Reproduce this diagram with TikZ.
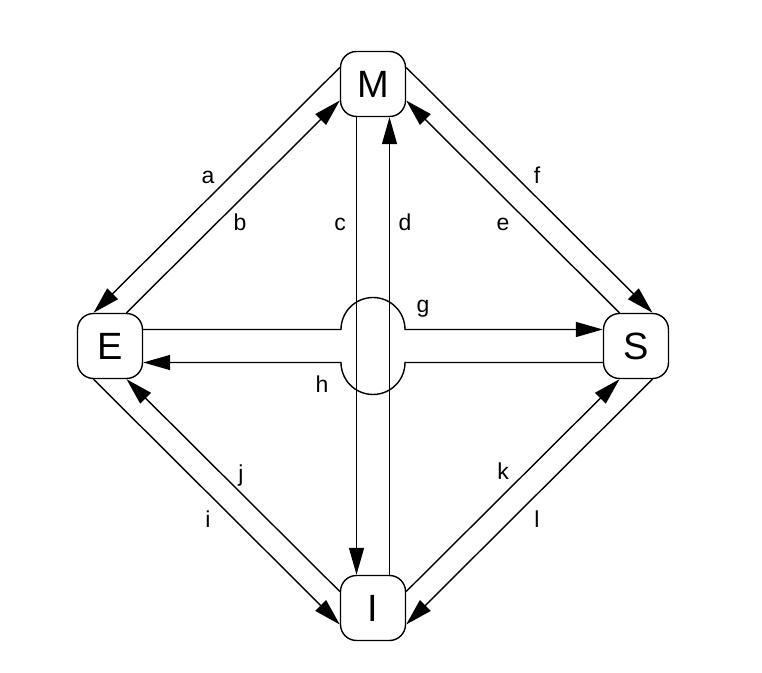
\documentclass[tikz,border=0pt]{standalone}
\usepackage{fontspec}
\setmainfont{Liberation Sans}
\usetikzlibrary{arrows.meta,calc}
\begin{document}
\begin{tikzpicture}[x=1pt,y=1pt,
  statebox/.style={draw,line width=1.4pt,rounded corners=16pt,minimum width=65pt,minimum height=65pt,inner sep=0pt,font=\fontsize{38}{40}\selectfont},
  arr/.style={line width=1.4pt,-{Triangle[length=27pt,width=15pt]}},
  lbl/.style={anchor=base,inner sep=0pt,font=\fontsize{23}{25}\selectfont}]
\useasboundingbox (0,0) rectangle (762,672);
\node[statebox] (M) at (373,588) {M};
\node[statebox] (E) at (110,326) {E};
\node[statebox] (S) at (636,326) {S};
\node[statebox] (I) at (373,64) {I};
% upper left
\draw[arr] ($(M.west)+(0,16.5)$) -- ($(E.north)+(-16.5,0)$);
\draw[arr] ($(E.north)+(16.5,0)$) -- ($(M.west)+(0,-16.5)$);
% upper right
\draw[arr] ($(S.north)+(-16.5,0)$) -- ($(M.east)+(0,-16.5)$);
\draw[arr] ($(M.east)+(0,16.5)$) -- ($(S.north)+(16.5,0)$);
% vertical
\draw[arr] ($(M.south)+(-16.5,0)$) -- ($(I.north)+(-16.5,0)$);
\draw[arr] ($(I.north)+(16.5,0)$) -- ($(M.south)+(16.5,0)$);
% horizontal
\draw[arr] ($(E.east)+(0,16.5)$) -- (341,342.5) arc[start angle=180,end angle=0,radius=32] -- ($(S.west)+(0,16.5)$);
\draw[arr] ($(S.west)+(0,-16.5)$) -- (405,309.5) arc[start angle=0,end angle=-180,radius=32] -- ($(E.east)+(0,-16.5)$);
% lower left
\draw[arr] ($(E.south)+(-16.5,0)$) -- ($(I.west)+(0,-16.5)$);
\draw[arr] ($(I.west)+(0,16.5)$) -- ($(E.south)+(16.5,0)$);
% lower right
\draw[arr] ($(I.east)+(0,16.5)$) -- ($(S.south)+(-16.5,0)$);
\draw[arr] ($(S.south)+(16.5,0)$) -- ($(I.east)+(0,-16.5)$);
% labels
\node[lbl] (la) at (208,488) {a};
\node[lbl] (lb) at (240,441) {b};
\node[lbl] (lc) at (340,441) {c};
\node[lbl] (ld) at (405,441) {d};
\node[lbl] (le) at (503,441) {e};
\node[lbl] (lf) at (537,488) {f};
\node[lbl] (lg) at (423,359) {g};
\node[lbl] (lh) at (322,279) {h};
\node[lbl] (li) at (208,145) {i};
\node[lbl] (lj) at (241,191) {j};
\node[lbl] (lk) at (503,193) {k};
\node[lbl] (ll) at (537,145) {l};
\end{tikzpicture}
\end{document}
